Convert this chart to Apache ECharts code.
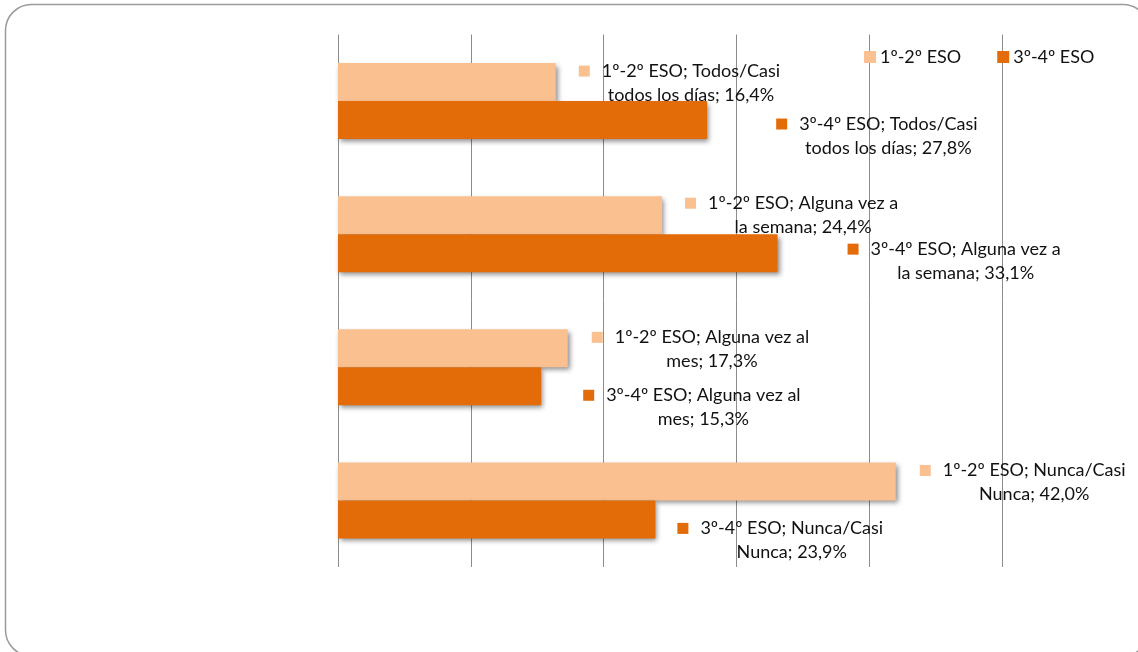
<!DOCTYPE html>
<html>
<head>
<meta charset="utf-8">
<script src="https://cdn.jsdelivr.net/npm/echarts@6/dist/echarts.min.js"></script>
<style>
  html, body { margin: 0; padding: 0; background: #ffffff; }
  #chart { width: 1138px; height: 652px; }
</style>
</head>
<body>
<div id="chart"></div>
<script>
// Frecuencia por curso (porcentaje de alumnos)
const categories = [
  'Todos/Casi\ntodos los días',
  'Alguna vez a\nla semana',
  'Alguna vez al\nmes',
  'Nunca/Casi\nNunca'
];
const seriesNames = ['1º-2º ESO', '3º-4º ESO'];
const valuesPrimero = [16.4, 24.4, 17.3, 42.0];
const valuesTercero = [27.8, 33.1, 15.3, 23.9];
const xTicks = [0, 10, 20, 30, 40, 50];

// Presentation
const COLORS = ['#FAC090', '#E36C09'];
const FONT = 'Lato, "Open Sans", sans-serif';
const TEXT = '#111111';
// horizontal / vertical nudges of each data label, per series
const labelNudge = [
  [[23, 1], [23, 0], [24, 1], [24, 1]],
  [[69, 16], [70, 8], [42, 21], [22, 21]]
];

function fmt(v) {
  return v.toFixed(1).replace('.', ',') + '%';
}

function makeSeries(idx, values) {
  const color = COLORS[idx];
  return {
    name: seriesNames[idx],
    type: 'bar',
    barGap: '0%',
    barCategoryGap: '43%',
    itemStyle: {
      color: color,
      shadowColor: 'rgba(0,0,0,0.45)',
      shadowBlur: 5,
      shadowOffsetX: 2,
      shadowOffsetY: 3
    },
    emphasis: { disabled: true },
    data: values.map((v, i) => ({
      value: v,
      label: { offset: labelNudge[idx][i] }
    })),
    label: {
      show: true,
      position: 'right',
      distance: 0,
      align: 'left',
      verticalAlign: 'middle',
      formatter: (p) => {
        const parts = categories[p.dataIndex].split('\n');
        return '{m|}{g|}{t|' + seriesNames[idx] + '; ' + parts[0] + '}{s|}\n' +
               '{t|' + parts[1] + '; ' + fmt(p.value) + '}';
      },
      rich: {
        m: { width: 11, height: 11, backgroundColor: color, align: 'center' },
        g: { width: 12, align: 'center' },
        s: { width: 23, align: 'center' },
        t: {
          fontFamily: FONT, fontSize: 18, lineHeight: 24,
          color: TEXT, align: 'center'
        }
      }
    }
  };
}

const chart = echarts.init(document.getElementById('chart'), null, { renderer: 'canvas' });

chart.setOption({
  backgroundColor: '#ffffff',
  animation: false,
  textStyle: { fontFamily: FONT },
  graphic: [{
    type: 'rect',
    shape: { x: 5.5, y: 4.5, width: 1143.5, height: 651.5, r: 26 },
    style: { fill: 'none', stroke: '#9a9a9a', lineWidth: 1.5 },
    z: -1
  }],
  legend: {
    data: seriesNames,
    left: 864,
    top: 48,
    padding: 0,
    icon: 'rect',
    itemWidth: 12,
    itemHeight: 12,
    itemGap: 36,
    selectedMode: false,
    textStyle: { fontFamily: FONT, fontSize: 18, color: TEXT, padding: [0, 0, 0, -1] }
  },
  grid: { left: 338, right: 136, top: 34.5, bottom: 85, containLabel: false },
  xAxis: {
    type: 'value',
    min: xTicks[0],
    max: xTicks[xTicks.length - 1],
    interval: xTicks[1] - xTicks[0],
    axisLabel: { show: false },
    axisLine: { show: false },
    axisTick: { show: false },
    splitLine: { show: true, lineStyle: { color: '#8c8c8c', width: 1 } }
  },
  yAxis: {
    type: 'category',
    data: categories,
    inverse: true,
    axisLabel: { show: false },
    axisLine: { show: false },
    axisTick: { show: false },
    splitLine: { show: false }
  },
  series: [makeSeries(0, valuesPrimero), makeSeries(1, valuesTercero)]
});
</script>
</body>
</html>
